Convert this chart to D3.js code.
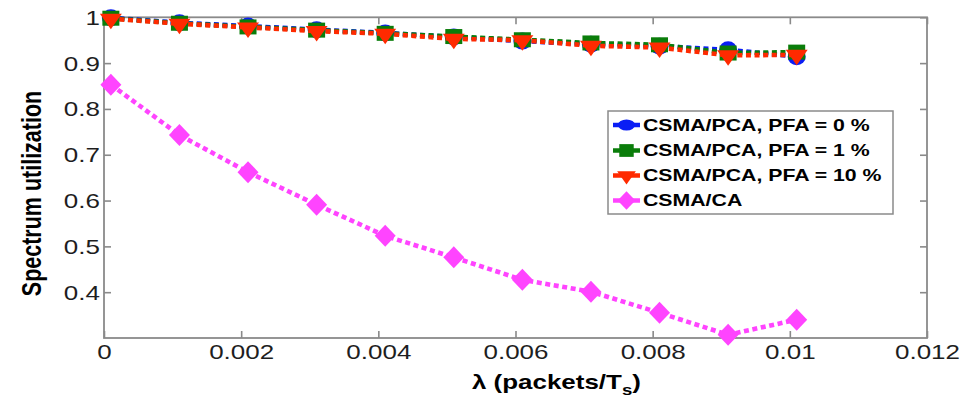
<!DOCTYPE html>
<html><head><meta charset="utf-8">
<script src="https://cdn.jsdelivr.net/npm/d3@7"></script>
<style>body{margin:0;background:#fff} svg{display:block}</style>
</head><body><svg id="c" width="974" height="397"></svg>
<script>
const lambda = [0.0001,0.0011,0.0021,0.0031,0.0041,0.0051,0.0061,0.0071,0.0081,0.0091,0.0101];
const pcaPfa0  = [0.999,0.988,0.981,0.973,0.966,0.957,0.948,0.941,0.937,0.929,0.914];
const pcaPfa1  = [0.998,0.987,0.979,0.972,0.965,0.958,0.951,0.944,0.940,0.922,0.924];
const pcaPfa10 = [0.997,0.986,0.978,0.970,0.964,0.953,0.950,0.938,0.934,0.917,0.918];
const csmaCa   = [0.853,0.743,0.662,0.591,0.523,0.476,0.427,0.401,0.355,0.307,0.340];
const seriesNames = ["CSMA/PCA, PFA = 0 %","CSMA/PCA, PFA = 1 %","CSMA/PCA, PFA = 10 %","CSMA/CA"];
const seriesColors = ["#0a1ef5","#0a7d0a","#ff2a00","#ff44ff"];
const xTicks = [0,0.002,0.004,0.006,0.008,0.01,0.012];
const xTickLabels = ["0","0.002","0.004","0.006","0.008","0.01","0.012"];
const yTicks = [0.4,0.5,0.6,0.7,0.8,0.9,1];
const yTickLabels = ["0.4","0.5","0.6","0.7","0.8","0.9","1"];
const xLabel = "λ (packets/T";
const yLabel = "Spectrum utilization";

const svg = d3.select("#c");
const L = 104, R = 927, T = 17.3, B = 338;
const SX = 1.3;
const x = d3.scaleLinear().domain([0, 0.012]).range([L, R]);
const y = d3.scaleLinear().domain([0.3, 1]).range([B, T]);
const axisColor = "#8a8a8a";
const textColor = "#1e1e1e";
const font = "'Liberation Sans', Arial, Helvetica, sans-serif";

function styleAxis(g) {
  g.select(".domain").remove();
  g.selectAll(".tick line").attr("stroke", axisColor).attr("stroke-width", 1.6);
}
const gB = svg.append("g").attr("transform", `translate(0,${B})`)
  .call(d3.axisBottom(x).tickValues(xTicks).tickSize(-7).tickFormat((d,i)=>xTickLabels[i]));
styleAxis(gB);
gB.selectAll(".tick text").attr("y", null).attr("dy", null)
  .attr("transform", `translate(0,21) scale(${SX},1)`)
  .attr("font-size", 20).attr("font-family", font).attr("fill", textColor);

const gT = svg.append("g").attr("transform", `translate(0,${T})`)
  .call(d3.axisTop(x).tickValues(xTicks).tickSize(-7).tickFormat(""));
styleAxis(gT);

const gL = svg.append("g").attr("transform", `translate(${L},0)`)
  .call(d3.axisLeft(y).tickValues(yTicks).tickSize(-7).tickFormat((d,i)=>yTickLabels[i]));
styleAxis(gL);
gL.selectAll(".tick text").attr("x", null).attr("dy", null)
  .attr("text-anchor", "end")
  .attr("transform", `translate(-4,7) scale(${SX},1)`)
  .attr("font-size", 20).attr("font-family", font).attr("fill", textColor);

const gR = svg.append("g").attr("transform", `translate(${R},0)`)
  .call(d3.axisRight(y).tickValues(yTicks).tickSize(-7).tickFormat(""));
styleAxis(gR);

svg.append("rect").attr("x", L).attr("y", T).attr("width", R - L).attr("height", B - T)
  .attr("fill", "none").attr("stroke", axisColor).attr("stroke-width", 1.8);

function markerPath(kind, s, legend) {
  s = s || 1;
  if (kind === "circle") {
    const rx = (legend ? 10 : 9)*s, ry = (legend ? 6.5 : 8.5)*s;
    return `M${-rx},0A${rx},${ry} 0 1,0 ${rx},0A${rx},${ry} 0 1,0 ${-rx},0Z`;
  }
  if (kind === "square") { const w = 8.5*s, h = 7.5*s; return `M${-w},${-h}H${w}V${h}H${-w}Z`; }
  if (kind === "tri") { const w = 11*s; return `M${-w},${-5*s}L${w},${-5*s}L0,${10.5*s}Z`; }
  const w = 10.5*s, h = 11*s;
  return `M0,${-h}L${w},0L0,${h}L${-w},0Z`;
}
const kinds = ["circle","square","tri","diamond"];
const allSeries = [pcaPfa0, pcaPfa1, pcaPfa10, csmaCa];

const line = d3.line().x(d => x(d[0])).y(d => y(d[1]));
allSeries.forEach((vals, si) => {
  const pts = lambda.map((l, i) => [l, vals[i]]);
  const g = svg.append("g");
  g.append("path").attr("d", line(pts)).attr("fill", "none")
    .attr("stroke", seriesColors[si]).attr("stroke-width", 4.6)
    .attr("stroke-dasharray", "5,3.6");
  g.selectAll("path.m").data(pts).enter().append("path").attr("class", "m")
    .attr("transform", d => `translate(${x(d[0])},${y(d[1])})`)
    .attr("d", markerPath(kinds[si]))
    .attr("fill", seriesColors[si]);
});

const lg = svg.append("g");
lg.append("rect").attr("x", 608).attr("y", 111).attr("width", 285).attr("height", 103)
  .attr("fill", "#fff").attr("stroke", "#8a8a8a").attr("stroke-width", 1.5);
const rowY = [125, 150.5, 175.5, 200.5];
seriesNames.forEach((name, i) => {
  const ry = rowY[i];
  lg.append("line").attr("x1", 613).attr("x2", 640).attr("y1", ry).attr("y2", ry)
    .attr("stroke", seriesColors[i]).attr("stroke-width", 4.5);
  lg.append("path").attr("transform", `translate(626.5,${ry})`)
    .attr("d", markerPath(kinds[i], 0.85, true)).attr("fill", seriesColors[i]);
  lg.append("text").attr("transform", `translate(643,${ry + 5.8}) scale(1.33,1)`)
    .attr("font-size", 16).attr("font-weight", "bold").attr("font-family", font)
    .attr("fill", "#000").text(name);
});

const xl = svg.append("text").attr("transform", `translate(472,389) scale(1.33,1)`)
  .attr("font-size", 19.5).attr("font-weight", "bold").attr("font-family", font).attr("fill", "#000");
xl.append("tspan").text(xLabel);
xl.append("tspan").attr("dy", 6).attr("font-size", 14).text("s");
xl.append("tspan").attr("dy", -6).text(")");

svg.append("text").attr("transform", `translate(41,193.5) rotate(-90) scale(1,1.3)`)
  .attr("text-anchor", "middle").attr("font-size", 21.5).attr("font-weight", "bold")
  .attr("font-family", font).attr("fill", "#000").text(yLabel);
</script>
</body></html>
